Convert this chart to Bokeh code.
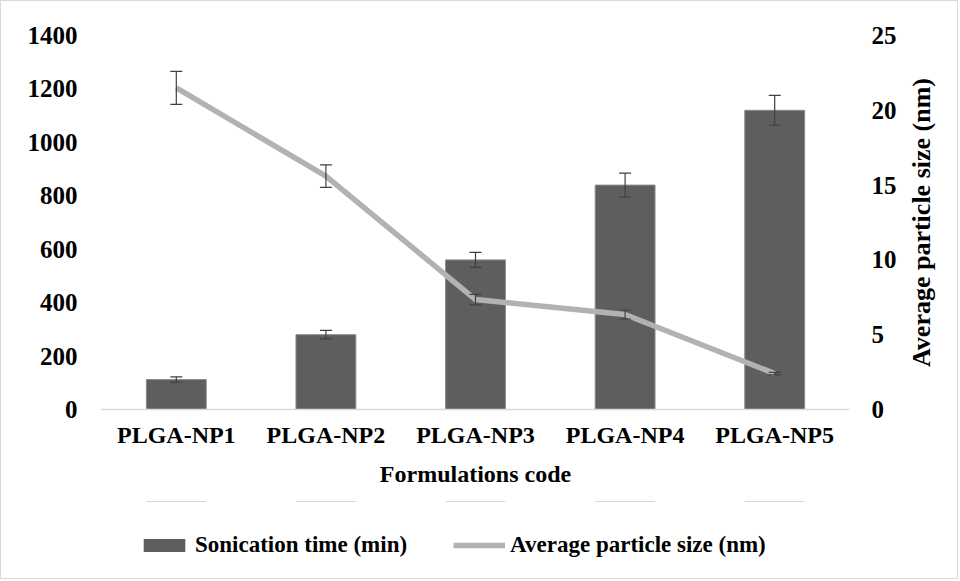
import math
from bokeh.plotting import figure
from bokeh.layouts import column, row
from bokeh.models import (Range1d, LinearAxis, Whisker, ColumnDataSource, Legend,
                          LegendItem, FixedTicker, TeeHead, Label)
from bokeh.embed import file_html
from bokeh.resources import INLINE

# ---- data ----
categories = ["PLGA-NP1", "PLGA-NP2", "PLGA-NP3", "PLGA-NP4", "PLGA-NP5"]
sonication_time = [112, 280, 560, 840, 1120]
sonication_err = [10, 16, 28, 45, 56]
particle_size = [21.5, 15.6, 7.35, 6.35, 2.4]
particle_err = [1.1, 0.75, 0.35, 0.3, 0.08]
left_ticks = [0, 200, 400, 600, 800, 1000, 1200, 1400]
right_ticks = [0, 5, 10, 15, 20, 25]

FONT = "Liberation Serif"
BAR_FILL = "#5E5E5E"
BAR_LINE = "#8A8A8A"
LINE_COLOR = "#B2B2B2"

bar_src = ColumnDataSource(dict(
    x=categories, top=sonication_time,
    upper=[v + e for v, e in zip(sonication_time, sonication_err)],
    lower=[v - e for v, e in zip(sonication_time, sonication_err)],
))
line_src = ColumnDataSource(dict(
    x=categories, y=particle_size,
    upper=[v + e for v, e in zip(particle_size, particle_err)],
    lower=[v - e for v, e in zip(particle_size, particle_err)],
))

p = figure(width=900, height=500, x_range=categories,
           y_range=Range1d(left_ticks[0], left_ticks[-1]),
           output_backend="svg", toolbar_location=None,
           min_border_left=100, min_border_right=52, min_border_top=34,
           min_border_bottom=92)
p.extra_y_ranges = {"size": Range1d(right_ticks[0], right_ticks[-1])}
p.xgrid.visible = False
p.ygrid.visible = False
p.outline_line_color = None
p.background_fill_color = "white"
p.border_fill_color = "white"

bars = p.vbar(x="x", top="top", width=0.4, source=bar_src,
              fill_color=BAR_FILL, line_color=BAR_LINE, line_width=1)
line = p.line(x="x", y="y", source=line_src, y_range_name="size",
              line_color=LINE_COLOR, line_width=5.5, line_join="round")

for src, rng in ((bar_src, "default"), (line_src, "size")):
    w = Whisker(source=src, base="x", upper="upper", lower="lower",
                dimension="height", line_color="#404040", line_width=1.2,
                upper_head=TeeHead(size=12, line_color="#404040", line_width=1.2),
                lower_head=TeeHead(size=12, line_color="#404040", line_width=1.2),
                level="overlay", y_range_name=rng)
    p.add_layout(w)

# left axis
ya = p.yaxis[0]
ya.ticker = FixedTicker(ticks=left_ticks)
ya.axis_line_color = None
ya.major_tick_line_color = None
ya.minor_tick_line_color = None
ya.major_label_standoff = 18
ya.major_label_text_font = FONT
ya.major_label_text_font_style = "bold"
ya.major_label_text_font_size = "25px"
ya.major_label_text_color = "black"

# right axis (ticks only; title is drawn in the side strip)
ra = LinearAxis(y_range_name="size", ticker=FixedTicker(ticks=right_ticks))
ra.axis_line_color = None
ra.major_tick_line_color = None
ra.minor_tick_line_color = None
ra.major_label_standoff = 16
ra.major_label_text_font = FONT
ra.major_label_text_font_style = "bold"
ra.major_label_text_font_size = "25px"
ra.major_label_text_color = "black"
p.add_layout(ra, "right")

# x axis
xa = p.xaxis[0]
xa.axis_label = "Formulations code"
xa.axis_line_color = "#D9D9D9"
xa.axis_line_width = 1.5
xa.major_tick_line_color = None
xa.minor_tick_line_color = None
xa.major_label_standoff = 6
xa.major_label_text_font = FONT
xa.major_label_text_font_style = "bold"
xa.major_label_text_font_size = "24px"
xa.major_label_text_color = "black"
xa.axis_label_text_font = FONT
xa.axis_label_text_font_style = "bold"
xa.axis_label_text_font_size = "24px"
xa.axis_label_text_color = "black"
xa.axis_label_standoff = 10

# legend strip (separate figure below the chart; its renderers fall outside its range)
leg = figure(width=900, height=77, x_range=categories, y_range=Range1d(-2, -1),
             output_backend="svg", toolbar_location=None,
             min_border_left=0, min_border_right=0, min_border_top=0,
             min_border_bottom=0)
leg.axis.visible = False
leg.xgrid.visible = False
leg.ygrid.visible = False
leg.outline_line_color = None
leg_bar = leg.vbar(x="x", top="top", width=0.4, source=bar_src, fill_color=BAR_FILL,
                   line_color=None)
leg_line = leg.line(x="x", y="y", source=line_src, line_color=LINE_COLOR,
                    line_width=5.5)

legend = Legend(items=[LegendItem(label="Sonication time (min)", renderers=[leg_bar]),
                       LegendItem(label="Average particle size (nm)", renderers=[leg_line])],
                location=(37, 20), orientation="horizontal",
                glyph_width=52, glyph_height=16, label_standoff=5, spacing=46,
                padding=0, margin=0, border_line_color=None,
                background_fill_alpha=0,
                label_text_font=FONT, label_text_font_style="bold",
                label_text_font_size="23px", label_text_color="black")
leg.add_layout(legend, "center")

# side strip with the right-hand axis title (reads bottom to top)
side = figure(width=56, height=500, x_range=Range1d(0, 1), y_range=p.y_range,
              output_backend="svg", toolbar_location=None,
              min_border_left=0, min_border_right=0, min_border_top=34,
              min_border_bottom=92)
side.axis.visible = False
side.xgrid.visible = False
side.ygrid.visible = False
side.outline_line_color = None
side.add_layout(Label(x=20, y=(left_ticks[0] + left_ticks[-1]) / 2,
                      x_units="screen", y_units="data",
                      text="Average particle size (nm)", angle=math.pi / 2,
                      text_align="center", text_baseline="middle",
                      text_font=FONT, text_font_style="bold",
                      text_font_size="26px", text_color="black"))

layout = row(column(p, leg, spacing=0), side, spacing=0)
layout.styles = {"border": "1px solid #D9D9D9"}
open("out.html", "w").write(file_html(layout, INLINE))
